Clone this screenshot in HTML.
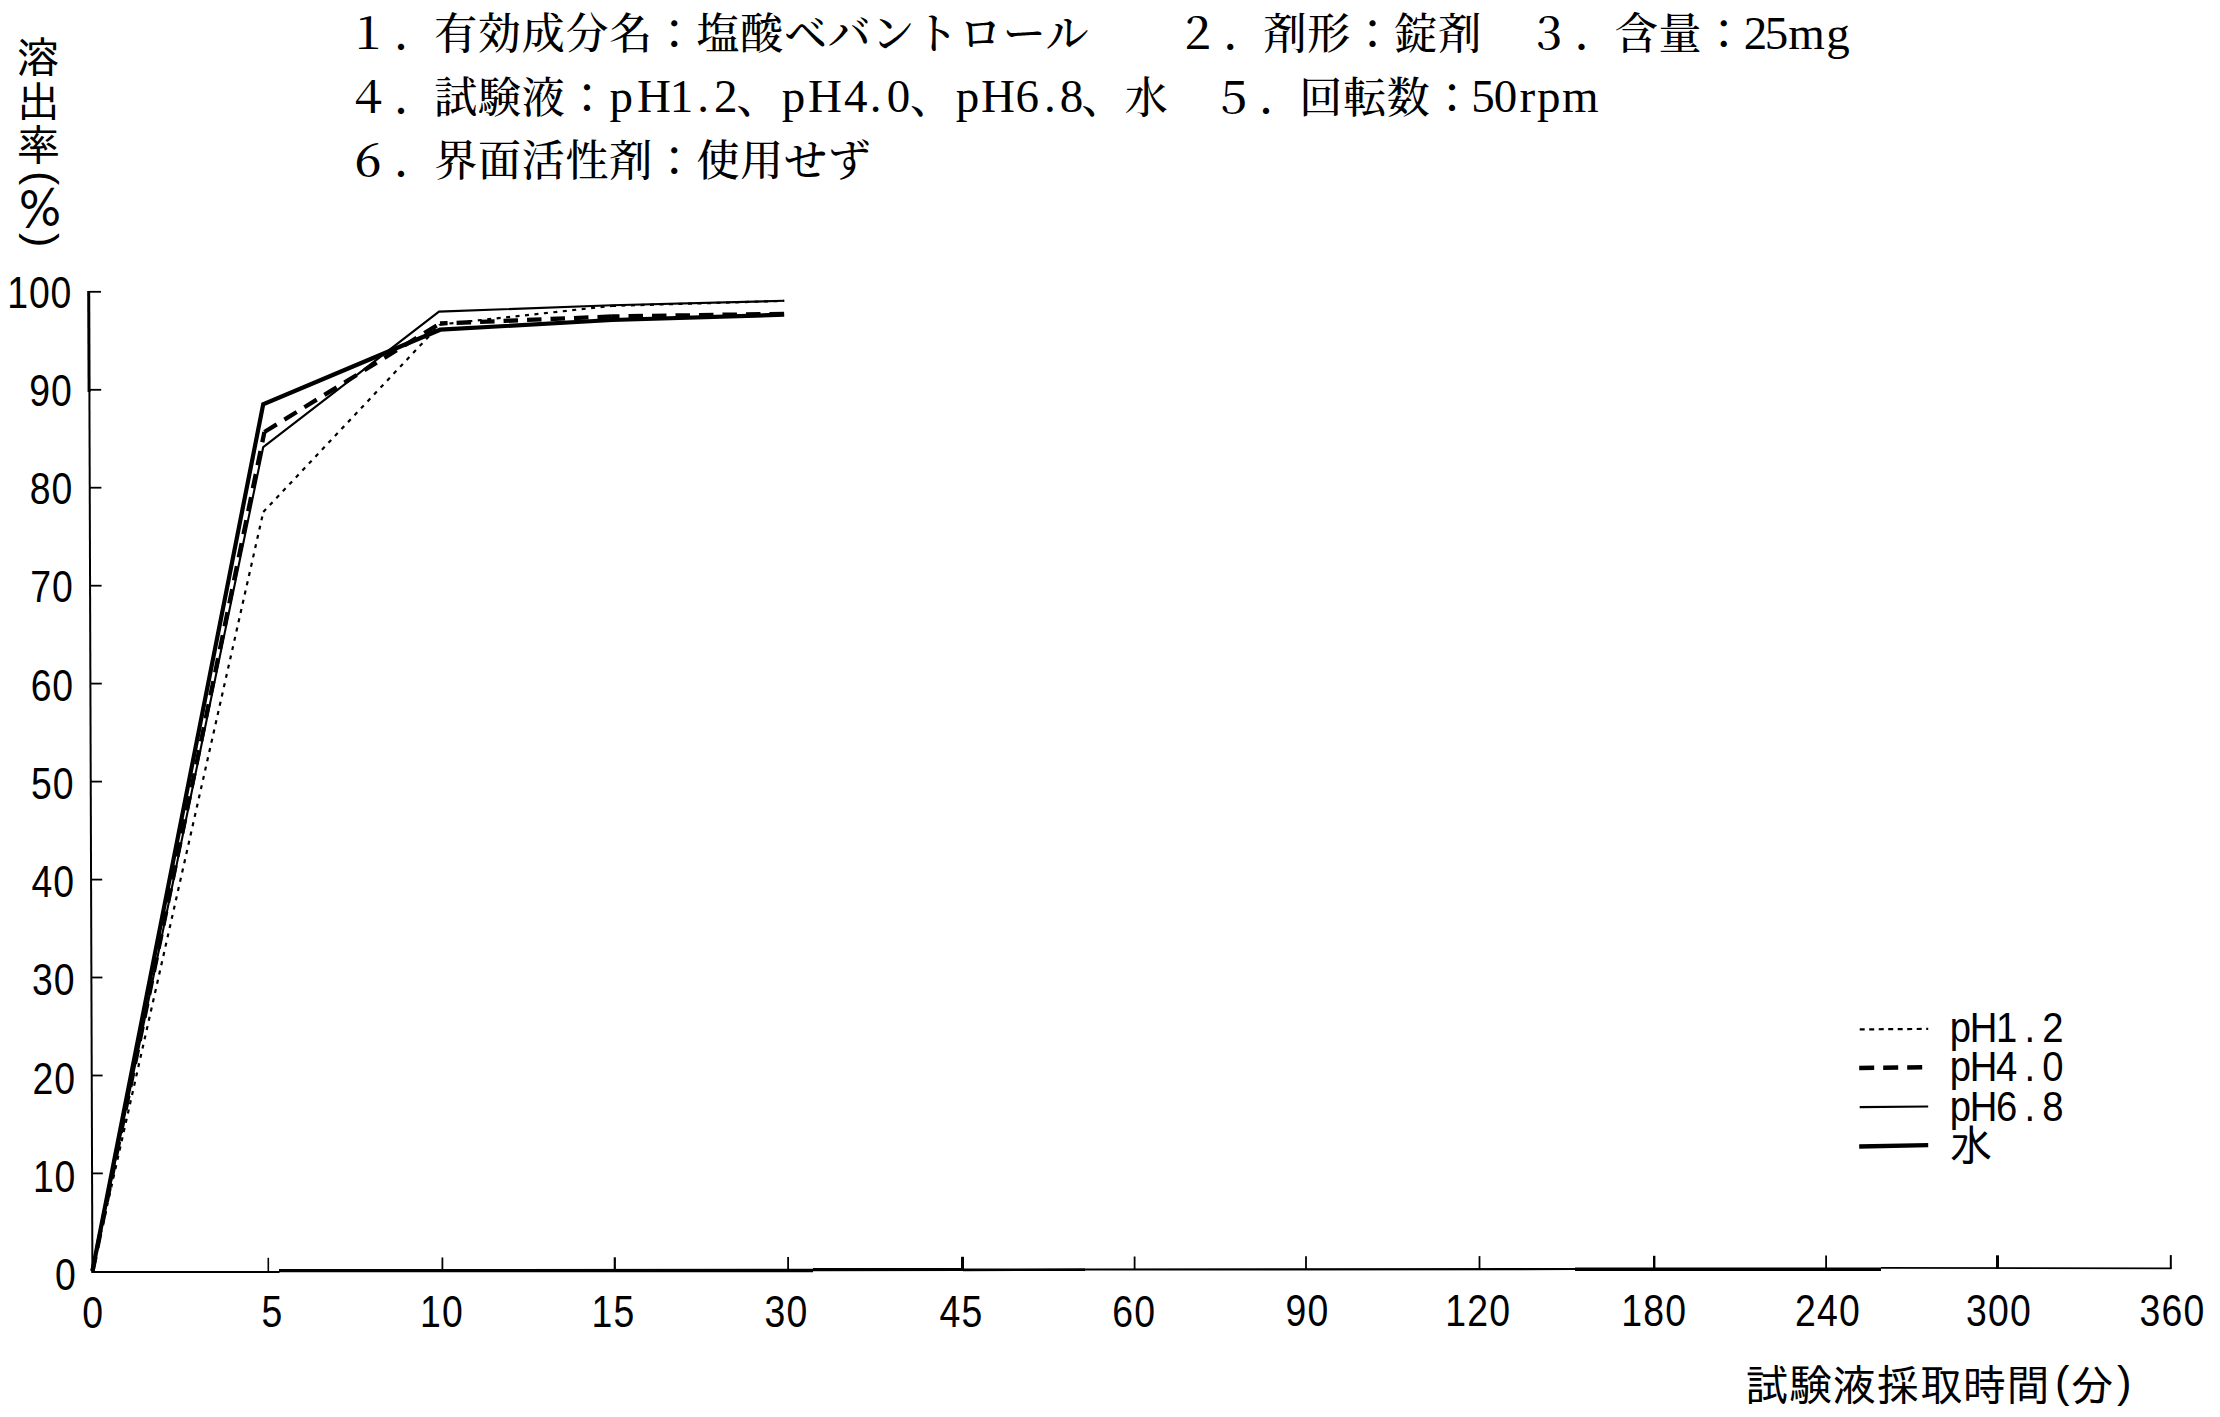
<!DOCTYPE html>
<html lang="ja">
<head>
<meta charset="utf-8">
<title>溶出率</title>
<style>
html,body{margin:0;padding:0;background:#fff;}
body{width:2220px;height:1417px;overflow:hidden;position:relative;}
svg{position:absolute;left:0;top:0;display:block;}
.m{font-family:"Liberation Serif","Noto Serif CJK SC",serif;font-size:43px;letter-spacing:0.72px;font-weight:500;fill:#000;}
.l{font-family:"Liberation Serif","Noto Serif CJK SC",serif;font-size:47px;fill:#000;text-anchor:middle;}
.g{font-family:"Liberation Sans","IPAGothic","Noto Sans CJK JP",sans-serif;font-size:43.5px;fill:#000;}
.d{font-family:"Liberation Sans","IPAGothic","Noto Sans CJK JP",sans-serif;font-size:43.5px;fill:#000;text-anchor:middle;}
.yl{position:absolute;left:15px;top:34.5px;width:44px;writing-mode:vertical-rl;text-orientation:mixed;font-family:"Liberation Sans","IPAGothic","Noto Sans CJK JP",sans-serif;font-size:43px;line-height:44px;letter-spacing:1px;color:#000;white-space:nowrap;}
.yl span{position:relative;}
.yl .p1{left:6px;margin-top:4px;}
.yl .pc{margin-top:-1px;font-size:45px;left:0.5px;}
.yl .p2{left:6px;margin-top:2.5px;}
</style>
</head>
<body>
<svg width="2220" height="1417" viewBox="0 0 2220 1417">
<text class="m" x="346.8" y="48.6">１<tspan dx="4">．</tspan><tspan dx="-4">有効成分名：塩酸ベバントロール</tspan></text>
<text class="m" x="1175.98" y="48.6">２<tspan dx="4">．</tspan><tspan dx="-4">剤形：錠剤</tspan></text>
<text class="m" x="1527.24" y="48.6">３<tspan dx="4">．</tspan><tspan dx="-4">含量：</tspan></text>
<text class="l" x="1755.4 1776.4 1806.6 1837.9" y="49.4">25mg</text>
<text class="m" x="346.8" y="112.6">４<tspan dx="4">．</tspan><tspan dx="-4">試験液：</tspan></text>
<text class="l" x="621.3 653.9 681.5 703 725.7" y="112.4">pH1.2</text>
<text class="m" x="736.5" y="112.6">、</text>
<text class="l" x="793.6 825 855.8 875.7 898.4" y="112.4">pH4.0</text>
<text class="m" x="910" y="112.6">、</text>
<text class="l" x="967.4 998 1027.2 1049.9 1071.4" y="112.4">pH6.8</text>
<text class="m" x="1081.5" y="112.6">、</text>
<text class="m" x="1124.8" y="112.6">水</text>
<text class="m" x="1211.8" y="112.6">５<tspan dx="4">．</tspan><tspan dx="-4">回転数：</tspan></text>
<text class="l" x="1483 1505.6 1527.4 1548.8 1580.3" y="112.4">50rpm</text>
<text class="m" x="346.8" y="175.6">６<tspan dx="4">．</tspan><tspan dx="-4">界面活性剤：使用せず</tspan></text>
<g stroke="#000" fill="none" stroke-linecap="butt">
<line x1="88.7" y1="291" x2="89.1" y2="392" stroke-width="3"/>
<line x1="89.4" y1="390" x2="92.4" y2="1272.5" stroke-width="2"/>
<line x1="91.4" y1="1272.0" x2="279.5" y2="1272.0" stroke-width="1.8"/>
<line x1="279" y1="1270.6" x2="813" y2="1270.5" stroke-width="3.3"/>
<line x1="813" y1="1269.6" x2="963" y2="1269.5" stroke-width="3.2"/>
<line x1="963" y1="1269.8" x2="1085" y2="1269.7" stroke-width="2.7"/>
<line x1="1085" y1="1269.5" x2="1576" y2="1269.0" stroke-width="2.2"/>
<line x1="1575" y1="1269.2" x2="1881" y2="1269.2" stroke-width="3.4"/>
<line x1="1881" y1="1267.9" x2="2171.6" y2="1268.4" stroke-width="1.9"/>
<line x1="92.1" y1="1173.4" x2="102.8" y2="1173.4" stroke-width="1.8"/>
<line x1="91.7" y1="1075.5" x2="102.6" y2="1075.5" stroke-width="1.8"/>
<line x1="91.4" y1="977.5" x2="102.4" y2="977.5" stroke-width="1.8"/>
<line x1="91.0" y1="879.6" x2="102.2" y2="879.6" stroke-width="1.8"/>
<line x1="90.7" y1="781.6" x2="102.0" y2="781.6" stroke-width="1.8"/>
<line x1="90.4" y1="683.6" x2="101.8" y2="683.6" stroke-width="1.8"/>
<line x1="90.0" y1="585.7" x2="101.6" y2="585.7" stroke-width="1.8"/>
<line x1="89.7" y1="487.7" x2="101.4" y2="487.7" stroke-width="1.8"/>
<line x1="89.3" y1="389.8" x2="101.2" y2="389.8" stroke-width="1.8"/>
<line x1="89.0" y1="291.8" x2="101.0" y2="291.8" stroke-width="1.8"/>
<line x1="268.3" y1="1257.8" x2="268.3" y2="1271.3" stroke-width="1.6"/>
<line x1="442.4" y1="1257.5" x2="442.4" y2="1271.0" stroke-width="1.8"/>
<line x1="614.8" y1="1257.3" x2="614.8" y2="1270.8" stroke-width="2.2"/>
<line x1="788.1" y1="1257.0" x2="788.1" y2="1270.5" stroke-width="1.8"/>
<line x1="962.5" y1="1256.8" x2="962.5" y2="1270.3" stroke-width="3"/>
<line x1="1134.6" y1="1256.5" x2="1134.6" y2="1270.0" stroke-width="1.8"/>
<line x1="1306" y1="1256.3" x2="1306" y2="1269.8" stroke-width="1.8"/>
<line x1="1479.5" y1="1256.1" x2="1479.5" y2="1269.6" stroke-width="1.8"/>
<line x1="1654.2" y1="1255.8" x2="1654.2" y2="1269.3" stroke-width="2.4"/>
<line x1="1826.1" y1="1255.6" x2="1826.1" y2="1269.1" stroke-width="1.8"/>
<line x1="1997.5" y1="1255.3" x2="1997.5" y2="1268.8" stroke-width="3"/>
<line x1="2170.8" y1="1255.1" x2="2170.8" y2="1268.6" stroke-width="2"/>
</g>
<text class="d" transform="scale(0.86 1)" x="76.07" y="1290.1">0</text>
<text class="d" transform="scale(0.86 1)" x="50.33 75.56" y="1191.9">10</text>
<text class="d" transform="scale(0.86 1)" x="49.81 75.04" y="1093.6">20</text>
<text class="d" transform="scale(0.86 1)" x="49.30 74.53" y="995.4">30</text>
<text class="d" transform="scale(0.86 1)" x="48.78 74.02" y="897.2">40</text>
<text class="d" transform="scale(0.86 1)" x="48.27 73.50" y="798.9">50</text>
<text class="d" transform="scale(0.86 1)" x="47.76 72.99" y="700.7">60</text>
<text class="d" transform="scale(0.86 1)" x="47.24 72.47" y="602.5">70</text>
<text class="d" transform="scale(0.86 1)" x="46.73 71.96" y="504.3">80</text>
<text class="d" transform="scale(0.86 1)" x="46.21 71.45" y="406.0">90</text>
<text class="d" transform="scale(0.86 1)" x="20.47 45.70 70.93" y="307.8">100</text>
<text class="d" transform="scale(0.86 1)" x="107.79" y="1327.7">0</text>
<text class="d" transform="scale(0.86 1)" x="316.16" y="1327.5">5</text>
<text class="d" transform="scale(0.86 1)" x="500.35 525.93" y="1327.4">10</text>
<text class="d" transform="scale(0.86 1)" x="700.00 725.58" y="1327.2">15</text>
<text class="d" transform="scale(0.86 1)" x="901.16 926.74" y="1327.0">30</text>
<text class="d" transform="scale(0.86 1)" x="1104.42 1130.00" y="1326.8">45</text>
<text class="d" transform="scale(0.86 1)" x="1305.35 1330.93" y="1326.7">60</text>
<text class="d" transform="scale(0.86 1)" x="1506.74 1532.33" y="1326.5">90</text>
<text class="d" transform="scale(0.86 1)" x="1692.56 1718.14 1743.72" y="1326.3">120</text>
<text class="d" transform="scale(0.86 1)" x="1897.21 1922.79 1948.37" y="1326.1">180</text>
<text class="d" transform="scale(0.86 1)" x="2099.30 2124.88 2150.47" y="1326.0">240</text>
<text class="d" transform="scale(0.86 1)" x="2298.02 2323.60 2349.19" y="1325.8">300</text>
<text class="d" transform="scale(0.86 1)" x="2500.00 2525.58 2551.16" y="1325.6">360</text>
<text class="g" x="1745.5" y="1401">試験液採取時間<tspan dx="5" dy="-4.5">(</tspan><tspan dx="1" dy="4.5">分</tspan><tspan dx="3" dy="-4.5">)</tspan></text>
<g stroke="#000" fill="none" stroke-linejoin="miter">
<path d="M92.4 1271L263.3 512 M263.3 512L440 324.5 M440 324.5L612 305.9 M612 305.9L784.2 300.9" stroke-width="2.2" stroke-dasharray="4 5.5"/>
<line x1="92.6" y1="1271" x2="264.4" y2="432" stroke-width="4.3" stroke-dasharray="14.5 9"/>
<line x1="264.4" y1="432" x2="440" y2="323.5" stroke-width="4.3" stroke-dasharray="14.5 9"/>
<line x1="440" y1="323.5" x2="612" y2="316.5" stroke-width="4.3" stroke-dasharray="14.5 9" stroke-dashoffset="6.9"/>
<line x1="612" y1="316.5" x2="784" y2="313.8" stroke-width="4.3" stroke-dasharray="14.5 9" stroke-dashoffset="7"/>
<polyline points="92.4,1271 263.2,447.2 439,311.6 612,305.3 784.2,300.8" stroke-width="2.1"/>
<polyline points="92.4,1271 263.2,404.3 440.2,329.7 612,320 784.2,314.7" stroke-width="4.2"/>
<line x1="1859.7" y1="1029.4" x2="1928.2" y2="1028.9" stroke-width="2.2" stroke-dasharray="5 4.5"/>
<line x1="1859.2" y1="1068" x2="1928" y2="1067.3" stroke-width="4.5" stroke-dasharray="15 9"/>
<line x1="1859.7" y1="1107.1" x2="1928.2" y2="1106.5" stroke-width="2.2"/>
<line x1="1859.2" y1="1146.5" x2="1928.2" y2="1145.2" stroke-width="4.3"/>
</g>
<text class="d" style="font-size:42.5px" transform="scale(0.9 1)" x="2178.33 2204.00 2229.67 2255.33 2281.00" y="1042.0">pH1.2</text>
<text class="d" style="font-size:42.5px" transform="scale(0.9 1)" x="2178.33 2204.00 2229.67 2255.33 2281.00" y="1081.0">pH4.0</text>
<text class="d" style="font-size:42.5px" transform="scale(0.9 1)" x="2178.33 2204.00 2229.67 2255.33 2281.00" y="1120.7">pH6.8</text>
<text class="g" x="1949.5" y="1161">水</text>
</svg>
<div class="yl">溶出率<span class="p1">(</span><span class="pc">％</span><span class="p2">)</span></div>
</body>
</html>
